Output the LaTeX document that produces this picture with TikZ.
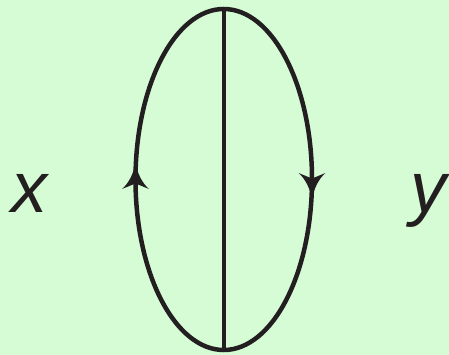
\documentclass[tikz,border=0pt]{standalone}
\usepackage{fontspec}
\setmainfont{Liberation Sans}
\definecolor{bgc}{RGB}{213,252,213}
\definecolor{ink}{RGB}{35,31,32}
\begin{document}
\begin{tikzpicture}[x=1pt,y=-1pt,
  line/.style={draw=ink,line width=4.5pt},
  headstyle/.style={fill=ink,draw=none},
  lbl/.style={font=\fontsize{72}{80}\selectfont\itshape,text=ink,anchor=base,inner sep=0pt}]
\fill[bgc] (0,0) rectangle (449,355);
\useasboundingbox (0,0) rectangle (449,355);
\coordinate (c) at (223.75,179.5);
\coordinate (top) at (223.75,9);
\coordinate (bot) at (223.75,350);
\draw[line] (c) ellipse [x radius=88.25, y radius=170.5];
\draw[line] (top) -- (bot);
% left arrowhead (pointing up)
\coordinate (lt) at (135.5,164);
\fill[headstyle] (lt) .. controls (138,174) and (142,183) .. (149,189)
  -- (135.5,183.5) -- (122,189) .. controls (129,183) and (133,174) .. (lt) -- cycle;
% right arrowhead (pointing down)
\coordinate (rt) at (312,198);
\fill[headstyle] (rt) .. controls (309.5,188) and (305.5,179) .. (298.5,173)
  -- (312,178.5) -- (325.5,173) .. controls (318.5,179) and (314.5,188) .. (rt) -- cycle;
\node[lbl] (x) at (29,213) {x};
\node[lbl] (y) at (428,213) {y};
\end{tikzpicture}
\end{document}
